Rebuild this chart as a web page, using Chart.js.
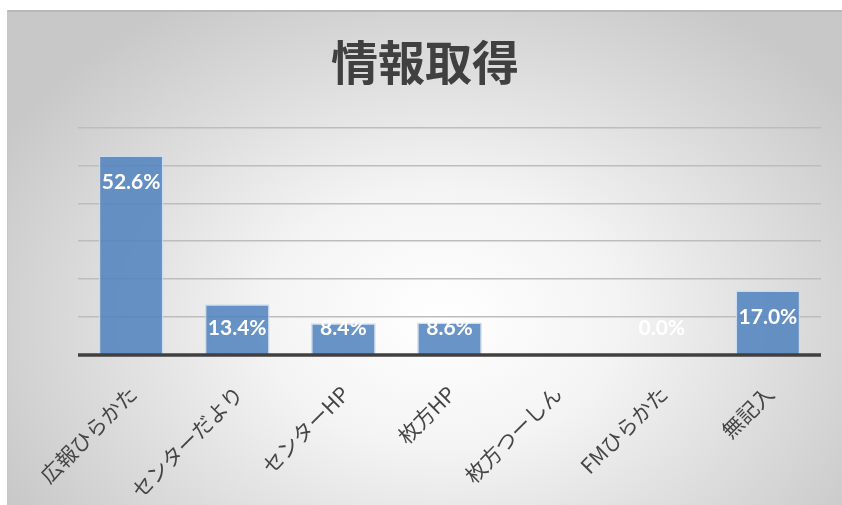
<!DOCTYPE html>
<html><head><meta charset="utf-8">
<script src="https://cdn.jsdelivr.net/npm/chart.js@4.4.1/dist/chart.umd.min.js"></script>
<style>
html,body{margin:0;padding:0;background:#fff;width:842px;height:505px;overflow:hidden;}
#panel{position:absolute;left:7px;top:10px;width:835px;height:495px;box-sizing:border-box;
 border-top:2px solid #b8b8b8;border-left:1px solid #c8c8c8;
 background:radial-gradient(ellipse 60% 75% at 52% 62%, #ffffff 0%, #f4f4f4 35%, #dcdcdc 70%, #c8c8c8 100%);}
canvas{position:absolute;left:0;top:0;}
</style></head>
<body>
<div id="panel"><canvas id="c" width="834" height="493"></canvas></div>
<script>
const categories = ["広報ひらかた","センターだより","センターHP","枚方HP","枚方つーしん","FMひらかた","無記入"];
const values = [52.6, 13.4, 8.4, 8.6, null, 0.0, 17.0];
const chartTitle = "情報取得";

const labelPlugin = {
  id:'barLabels',
  afterDatasetsDraw(chart){
    const ctx = chart.ctx;
    const meta = chart.getDatasetMeta(0);
    const base = chart.scales.y.getPixelForValue(0);
    ctx.save();
    ctx.font = 'bold 21px Lato, "Open Sans", sans-serif';
    ctx.fillStyle = '#ffffff';
    ctx.textAlign = 'center';
    ctx.textBaseline = 'middle';
    meta.data.forEach((bar,i)=>{
      const v = values[i];
      if (v === null || v === undefined) return;
      let y = Math.min(bar.y + 27, base - 27);
      ctx.fillText(v.toFixed(1) + '%', bar.x, y);
    });
    ctx.restore();
  }
};
const axisPlugin = {
  id:'axisLine',
  afterDatasetsDraw(chart){
    const ctx = chart.ctx, a = chart.chartArea;
    const y = chart.scales.y.getPixelForValue(0);
    ctx.save();
    ctx.strokeStyle = '#404040';
    ctx.lineWidth = 3.5;
    ctx.beginPath(); ctx.moveTo(a.left, y); ctx.lineTo(a.right, y); ctx.stroke();
    ctx.restore();
  }
};

new Chart(document.getElementById('c'), {
  type:'bar',
  data:{labels:categories, datasets:[{data:values,
    backgroundColor:'rgba(79,129,189,0.85)',
    borderColor:'rgba(200,220,240,0.9)', borderWidth:1.5, borderSkipped:'bottom',
    categoryPercentage:0.61, barPercentage:1.0}]},
  options:{
    responsive:false, animation:false,
    layout:{padding:{left:21,right:21,top:0,bottom:0}},
    plugins:{
      legend:{display:false}, tooltip:{enabled:false},
      title:{display:true, text:chartTitle, color:'#404040',
        font:{family:'"Noto Sans CJK JP", sans-serif', size:47, weight:'bold', lineHeight:1.2},
        padding:{top:22, bottom:37}}
    },
    scales:{
      y:{min:0,max:60, ticks:{display:false, stepSize:10},
        grid:{color:'#bdbdbd', lineWidth:1.5, drawTicks:false},
        border:{display:false},
        afterFit(s){ s.width = 49; }},
      x:{grid:{display:false, drawTicks:false}, border:{display:false},
        ticks:{color:'#454545', minRotation:45, maxRotation:45, padding:26, labelOffset:2,
          font:{family:'"Noto Sans CJK JP", sans-serif', size:21}},
        afterFit(s){ s.height = 150; }}
    }
  },
  plugins:[labelPlugin, axisPlugin]
});
</script>
</body></html>
